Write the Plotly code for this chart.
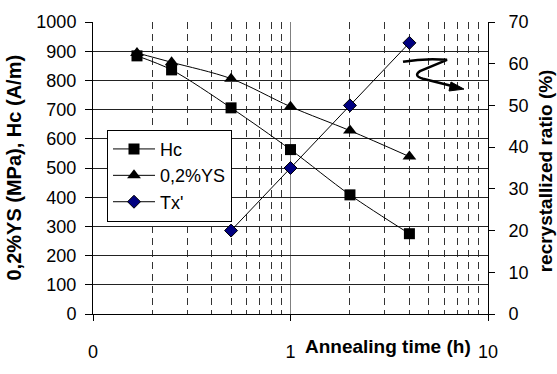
import plotly.graph_objects as go

# ---- data ----
annealing_h = [0.167, 0.25, 0.5, 1, 2, 4]
hc_values = [884, 836, 706, 563, 408, 275]
ys_values = [894, 862, 806, 710, 628, 539]
tx_hours = [0.5, 1, 2, 4]
tx_values = [20, 35, 50, 65]
x_tick_vals = [0.1, 1, 10]
x_tick_text = ["0", "1", "10"]
x_minor_vals = [0.2, 0.3, 0.4, 0.5, 0.6, 0.7, 0.8, 0.9, 2, 3, 4, 5, 6, 7, 8, 9]

FONT = "Liberation Sans, Arial, sans-serif"

fig = go.Figure()
fig.add_trace(go.Scatter(
    x=annealing_h, y=hc_values, name="Hc", mode="lines+markers",
    line=dict(color="black", width=1, shape="spline", smoothing=0.9),
    marker=dict(symbol="square", size=11, color="black"),
))
fig.add_trace(go.Scatter(
    x=annealing_h, y=ys_values, name="0,2%YS", mode="lines+markers",
    line=dict(color="black", width=1, shape="spline", smoothing=0.9),
    marker=dict(symbol="triangle-up", size=12, color="black"),
))
fig.add_trace(go.Scatter(
    x=tx_hours, y=tx_values, name="Tx'", mode="lines+markers", yaxis="y2",
    line=dict(color="black", width=1),
    marker=dict(symbol="diamond", size=10, color="#000080",
                line=dict(color="black", width=1)),
))

W, H = 557, 374
L, R, T, B = 93, 69, 14, 51
pw, ph = W - L - R, H - T - B

def px(x):
    return (x - L) / pw

def py(y):
    return (H - B - y) / ph

fig.update_layout(
    width=W, height=H,
    margin=dict(l=L, r=R, t=T, b=B),
    paper_bgcolor="white", plot_bgcolor="white",
    font=dict(family=FONT, size=18, color="black"),
    showlegend=True,
    legend=dict(
        x=px(107), y=py(128), xanchor="left", yanchor="top",
        bgcolor="white", bordercolor="black", borderwidth=1,
        font=dict(size=18), tracegroupgap=0, itemwidth=42,
    ),
    xaxis=dict(
        type="log", range=[-1, 1],
        tickmode="array", tickvals=x_tick_vals, ticktext=x_tick_text,
        ticks="outside", ticklen=6, tickcolor="black",
        ticklabelstandoff=15,
        showgrid=True, gridcolor="#808080", gridwidth=1,
        showline=True, linecolor="black", linewidth=1,
        zeroline=False,
        minor=dict(tickmode="array", tickvals=x_minor_vals, showgrid=True,
                   gridcolor="#333333", griddash="7px,5px", gridwidth=1,
                   ticks=""),
    ),
    yaxis=dict(
        range=[0, 1000], dtick=100, tick0=0,
        ticks="outside", ticklen=7, tickcolor="black",
        ticklabelstandoff=5,
        showgrid=True, gridcolor="#222222", gridwidth=1,
        showline=True, linecolor="black", linewidth=1,
        zeroline=False,
    ),
    yaxis2=dict(
        range=[0, 70], dtick=10, tick0=0, overlaying="y", side="right",
        ticks="outside", ticklen=6, tickcolor="black",
        ticklabelstandoff=10,
        showgrid=False, showline=True, linecolor="black", linewidth=1,
        zeroline=False,
    ),
    yaxis3=dict(
        range=[0, 70], dtick=10, tick0=0, overlaying="y", side="right",
        ticks="inside", ticklen=4, tickcolor="black", showticklabels=False,
        showgrid=False, showline=False, zeroline=False,
    ),
)

# axis titles
fig.add_annotation(text="<b>Annealing time (h)</b>", x=px(388), y=py(357),
                   xref="paper", yref="paper", showarrow=False,
                   font=dict(size=19), xanchor="center", yanchor="middle")
fig.add_annotation(text="<b>0,2%YS (MPa), Hc (A/m)</b>", x=px(14), y=py(168),
                   xref="paper", yref="paper", showarrow=False, textangle=-90,
                   font=dict(size=20), xanchor="center", yanchor="middle")
fig.add_annotation(text="<b>recrystallized ratio (%)</b>", x=px(545), y=py(172),
                   xref="paper", yref="paper", showarrow=False, textangle=-90,
                   font=dict(size=19), xanchor="center", yanchor="middle")

# hand-drawn squiggle arrow (annotation)
def P(x, y):
    return f"{px(x):.4f},{py(y):.4f}"

squiggle = (f"M {P(403,56)} Q {P(425,52)} {P(447,54)} "
            f"L {P(420,66)} Q {P(413,71)} {P(423,74)} L {P(453,82)}")
fig.add_shape(type="path", path=squiggle, xref="paper", yref="paper",
              line=dict(color="black", width=2.5))
head = f"M {P(451,77.5)} L {P(464,85)} L {P(449,87)} Z"
fig.add_shape(type="path", path=head, xref="paper", yref="paper",
              line=dict(color="black", width=1), fillcolor="black")

fig.write_html("out.html")
